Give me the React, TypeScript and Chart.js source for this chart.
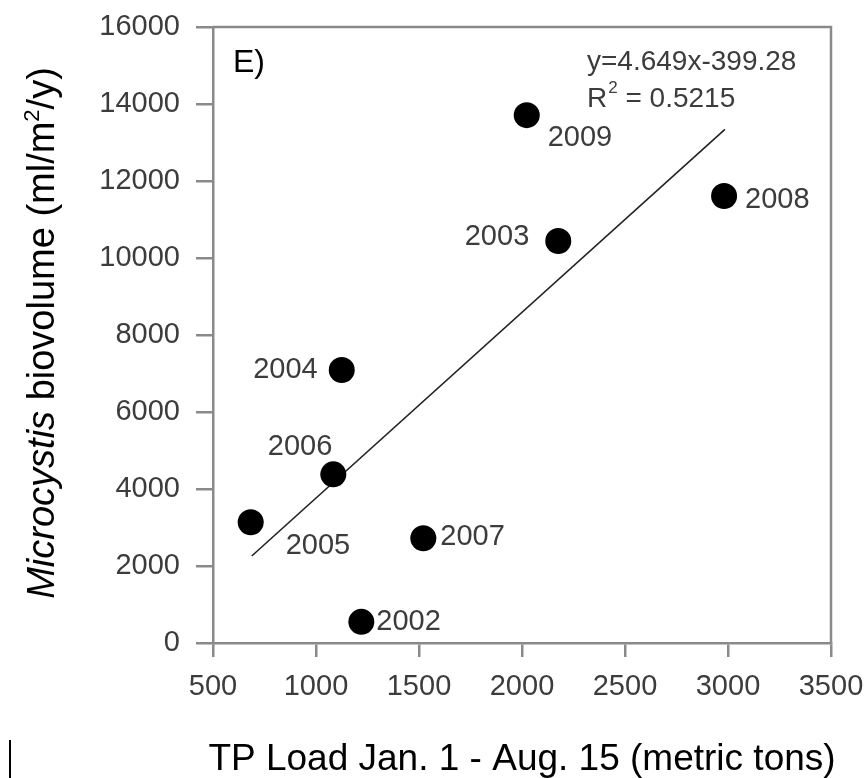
import React, { useEffect, useRef } from "react";
import { Chart, registerables } from "chart.js";

Chart.register(...registerables);

// ---- data ----
const years = ["2002", "2003", "2004", "2005", "2006", "2007", "2008", "2009"];
const tpLoad = [1220, 2176, 1125, 683, 1084, 1521, 2981, 2023];
const biovolume = [550, 10440, 7090, 3135, 4380, 2720, 11610, 13710];
const trendX = [688, 2985];
const trendY = [2260, 13340];
const xTickValues = [500, 1000, 1500, 2000, 2500, 3000, 3500];
const yTickValues = [0, 2000, 4000, 6000, 8000, 10000, 12000, 14000, 16000];
const equationText = "y=4.649x-399.28";
const r2Text = "0.5215";
const panelLabel = "E)";
const xTitle = "TP Load Jan. 1 - Aug. 15 (metric tons)";
const yTitleItalic = "Microcystis";
const yTitleMain = " biovolume (ml/m";
const yTitleSup = "2";
const yTitleEnd = "/y)";

// ---- styles ----
const FONT = "'Liberation Sans', Arial, Helvetica, sans-serif";
const AXIS = "#8a8a8a";
const TEXT_GRAY = "#3c3c3c";
// label placement relative to each point: [dx, dy, align]
const labelPlacement: [number, number, CanvasTextAlign][] = [
  [15, 0, "left"],
  [-29, -4, "right"],
  [-24, 0, "right"],
  [35, 24, "left"],
  [-1, -27, "right"],
  [17, -1, "left"],
  [21, 4, "left"],
  [21, 23, "left"],
];

const zeroPadding = (s: any) => {
  s.paddingTop = 0;
  s.paddingBottom = 0;
  s.paddingLeft = 0;
  s.paddingRight = 0;
};

const annotatePlugin = {
  id: "annotate",
  afterDatasetsDraw(chart: any) {
    const ctx: CanvasRenderingContext2D = chart.ctx;
    const { left, right, top, bottom } = chart.chartArea;
    ctx.save();
    // top & right frame
    ctx.strokeStyle = AXIS;
    ctx.lineWidth = 2.5;
    ctx.beginPath();
    ctx.moveTo(left, top);
    ctx.lineTo(right, top);
    ctx.lineTo(right, bottom);
    ctx.stroke();

    // point labels
    const meta = chart.getDatasetMeta(0);
    ctx.font = `29px ${FONT}`;
    ctx.fillStyle = TEXT_GRAY;
    ctx.textBaseline = "middle";
    meta.data.forEach((pt: any, i: number) => {
      const [dx, dy, align] = labelPlacement[i];
      ctx.textAlign = align;
      ctx.fillText(years[i], pt.x + dx, pt.y + dy);
    });

    // panel label
    ctx.textBaseline = "alphabetic";
    ctx.textAlign = "left";
    ctx.fillStyle = "#000";
    ctx.font = `32px ${FONT}`;
    ctx.fillText(panelLabel, left + 20, top + 45);

    // equation
    ctx.fillStyle = TEXT_GRAY;
    ctx.font = `28px ${FONT}`;
    const ex = right - 244;
    ctx.fillText(equationText, ex, top + 43);
    ctx.fillText("R", ex, top + 80);
    const rw = ctx.measureText("R").width;
    ctx.font = `17px ${FONT}`;
    ctx.fillText("2", ex + rw + 1, top + 66);
    const sw = ctx.measureText("2").width;
    ctx.font = `28px ${FONT}`;
    ctx.fillText(" = " + r2Text, ex + rw + sw + 1, top + 80);

    // x title
    ctx.fillStyle = "#000";
    ctx.font = `37px ${FONT}`;
    ctx.textAlign = "center";
    ctx.fillText(xTitle, (left + right) / 2, 770);

    // y title (rotated, mixed fonts)
    ctx.save();
    ctx.translate(54, (top + bottom) / 2 - 2);
    ctx.rotate(-Math.PI / 2);
    ctx.textAlign = "left";
    const fItal = `italic 38px ${FONT}`;
    const fNorm = `38px ${FONT}`;
    const fSup = `22px ${FONT}`;
    ctx.font = fItal;
    const w1 = ctx.measureText(yTitleItalic).width;
    ctx.font = fNorm;
    const w2 = ctx.measureText(yTitleMain).width;
    const w4 = ctx.measureText(yTitleEnd).width;
    ctx.font = fSup;
    const w3 = ctx.measureText(yTitleSup).width;
    let x = -(w1 + w2 + w3 + w4) / 2;
    ctx.font = fItal;
    ctx.fillText(yTitleItalic, x, 0);
    x += w1;
    ctx.font = fNorm;
    ctx.fillText(yTitleMain, x, 0);
    x += w2;
    ctx.font = fSup;
    ctx.fillText(yTitleSup, x, -15);
    x += w3;
    ctx.font = fNorm;
    ctx.fillText(yTitleEnd, x, 0);
    ctx.restore();

    // small mark at bottom-left
    ctx.strokeStyle = "#000";
    ctx.lineWidth = 2;
    ctx.beginPath();
    ctx.moveTo(10, 740);
    ctx.lineTo(10, 778);
    ctx.stroke();

    ctx.restore();
  },
};

export default function App() {
  const canvasRef = useRef<HTMLCanvasElement | null>(null);

  useEffect(() => {
    if (!canvasRef.current) return;
    const chart = new Chart(canvasRef.current, {
      type: "scatter",
      data: {
        datasets: [
          {
            type: "scatter",
            data: tpLoad.map((v, i) => ({ x: v, y: biovolume[i] })),
            backgroundColor: "#000",
            borderWidth: 0,
            pointRadius: 13,
            pointHoverRadius: 13,
          },
          {
            type: "line",
            data: trendX.map((v, i) => ({ x: v, y: trendY[i] })),
            borderColor: "#222",
            borderWidth: 1.6,
            pointRadius: 0,
            showLine: true,
            fill: false,
          },
        ],
      } as any,
      options: {
        animation: false,
        responsive: false,
        devicePixelRatio: 1,
        events: [],
        layout: { padding: { left: 0, right: 35, top: 27, bottom: 0 } },
        plugins: {
          legend: { display: false },
          tooltip: { enabled: false },
          title: { display: false },
        },
        scales: {
          x: {
            type: "linear",
            min: 500,
            max: 3500,
            afterBuildTicks: (s: any) => {
              s.ticks = xTickValues.map((v) => ({ value: v }));
            },
            afterFit: (s: any) => {
              s.height = 135;
              zeroPadding(s);
            },
            ticks: {
              font: { family: FONT, size: 29 },
              color: TEXT_GRAY,
              padding: 13,
              maxRotation: 0,
              autoSkip: false,
              callback: (v: any) => String(v),
            },
            grid: {
              drawOnChartArea: false,
              drawTicks: true,
              tickLength: 14,
              color: AXIS,
              lineWidth: 2.5,
            },
            border: { display: true, color: AXIS, width: 2.5 },
          },
          y: {
            type: "linear",
            min: 0,
            max: 16000,
            afterBuildTicks: (s: any) => {
              s.ticks = yTickValues.map((v) => ({ value: v }));
            },
            afterFit: (s: any) => {
              s.width = 213;
              zeroPadding(s);
            },
            ticks: {
              font: { family: FONT, size: 29 },
              color: TEXT_GRAY,
              padding: 16,
              autoSkip: false,
              callback: (v: any) => String(v),
            },
            grid: {
              drawOnChartArea: false,
              drawTicks: true,
              tickLength: 17,
              color: AXIS,
              lineWidth: 2.5,
            },
            border: { display: true, color: AXIS, width: 2.5 },
          },
        },
      } as any,
      plugins: [annotatePlugin],
    });
    return () => chart.destroy();
  }, []);

  return (
    <div
      style={{
        position: "absolute",
        left: 0,
        top: 0,
        width: 866,
        height: 778,
        background: "#fff",
      }}
    >
      <canvas ref={canvasRef} width={866} height={778} />
    </div>
  );
}
